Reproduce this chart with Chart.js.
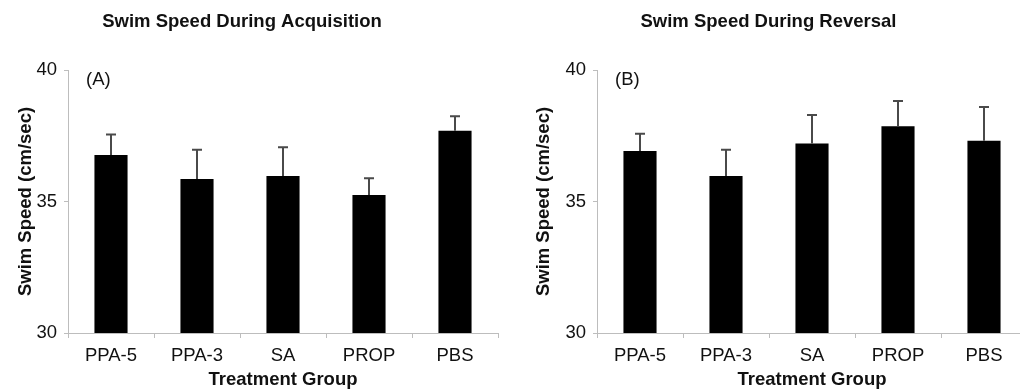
<!DOCTYPE html>
<html>
<head>
<meta charset="utf-8">
<script src="https://cdn.jsdelivr.net/npm/chart.js@4"></script>
<style>
    html, body { margin: 0; padding: 0; background: #fff; overflow: hidden; width: 1020px; height: 389px; }
    .panel { position: absolute; top: 0; }
</style>
</head>
<body>
<div class="panel" style="left:-14px"><canvas id="acquisition" width="524" height="389"></canvas></div>
<div class="panel" style="left:510px"><canvas id="reversal" width="545" height="389"></canvas></div>
<script>
"use strict";

const grupos = ["PPA-5", "PPA-3", "SA", "PROP", "PBS"];

const adquisicionMedias = [36.77, 35.86, 35.97, 35.25, 37.69];
const adquisicionError = [0.78, 1.11, 1.09, 0.63, 0.55];

const reversionMedias = [36.92, 35.97, 37.21, 37.86, 37.31];
const reversionError = [0.66, 1.0, 1.08, 0.96, 1.28];

const yTicks = [30, 35, 40];

const FONT = "'Liberation Sans', Arial, sans-serif";
const SIZE = 18.5;

/**
 * Barras de error (solo la parte superior se ve) y etiqueta del panel
 */
const errorBars = {
    id: "errorBars",
    afterDatasetsDraw(chart, args, opts) {
        const { ctx, chartArea } = chart;
        const y = chart.scales.y;
        const meta = chart.getDatasetMeta(0);
        const medias = chart.data.datasets[0].data;

        ctx.save();
        ctx.strokeStyle = "#4a4a4a";
        ctx.lineWidth = 2;
        meta.data.forEach((bar, i) => {
            const yMedia = y.getPixelForValue(medias[i]);
            const yTop = y.getPixelForValue(medias[i] + opts.errores[i]);
            ctx.beginPath();
            ctx.moveTo(bar.x, yMedia);
            ctx.lineTo(bar.x, yTop);
            ctx.moveTo(bar.x - 5, yTop);
            ctx.lineTo(bar.x + 5, yTop);
            ctx.stroke();
        });

        ctx.fillStyle = "#111";
        ctx.font = `${SIZE}px ${FONT}`;
        ctx.textBaseline = "middle";
        ctx.textAlign = "left";
        ctx.fillText(opts.etiqueta, chartArea.left + 18, chartArea.top + 10);
        ctx.restore();
    },
};

function graficar(canvas, titulo, medias, errores, etiqueta, anchoEjeY, padDerecho, padTituloY) {
    return new Chart(canvas, {
        type: "bar",
        data: {
            labels: grupos,
            datasets: [
                {
                    label: titulo,
                    data: medias,
                    backgroundColor: "#000",
                    borderWidth: 0,
                    categoryPercentage: 1,
                    barPercentage: 0.385,
                },
            ],
        },
        options: {
            responsive: false,
            animation: false,
            layout: { padding: { left: 0, right: padDerecho, top: 0, bottom: 0 } },
            plugins: {
                legend: { display: false },
                tooltip: { enabled: false },
                title: {
                    display: true,
                    text: titulo,
                    color: "#111",
                    font: { family: FONT, size: SIZE, weight: "bold", lineHeight: 1.2 },
                    padding: { top: 11, bottom: 36.8 },
                },
                errorBars: { errores: errores, etiqueta: etiqueta },
            },
            scales: {
                x: {
                    offset: true,
                    border: { color: "#bdbdbd", width: 1 },
                    grid: { drawOnChartArea: false, drawTicks: true, tickLength: 5, color: "#bdbdbd", offset: true },
                    ticks: { color: "#111", padding: 7, font: { family: FONT, size: SIZE } },
                    title: {
                        display: true,
                        text: "Treatment Group",
                        color: "#111",
                        font: { family: FONT, size: SIZE, weight: "bold", lineHeight: 1 },
                        padding: { top: 0, bottom: 0 },
                    },
                    afterFit(scale) {
                        scale.height = 56;
                    },
                },
                y: {
                    min: 30,
                    max: 40,
                    afterBuildTicks(scale) {
                        scale.ticks = yTicks.map((v) => ({ value: v }));
                    },
                    border: { color: "#bdbdbd", width: 1 },
                    grid: { drawOnChartArea: false, drawTicks: true, tickLength: 4, color: "#bdbdbd" },
                    ticks: { color: "#111", padding: 7, font: { family: FONT, size: SIZE } },
                    title: {
                        display: true,
                        text: "Swim Speed (cm/sec)",
                        color: "#111",
                        font: { family: FONT, size: SIZE, weight: "bold", lineHeight: 1.2 },
                        padding: { top: padTituloY, bottom: 0 },
                    },
                    afterFit(scale) {
                        scale.width = anchoEjeY;
                    },
                },
            },
        },
        plugins: [errorBars],
    });
}

graficar(document.querySelector("#acquisition"), "Swim Speed During Acquisition",
    adquisicionMedias, adquisicionError, "(A)", 82, 12, 29);
graficar(document.querySelector("#reversal"), "Swim Speed During Reversal",
    reversionMedias, reversionError, "(B)", 87, 28, 23);
</script>
</body>
</html>
